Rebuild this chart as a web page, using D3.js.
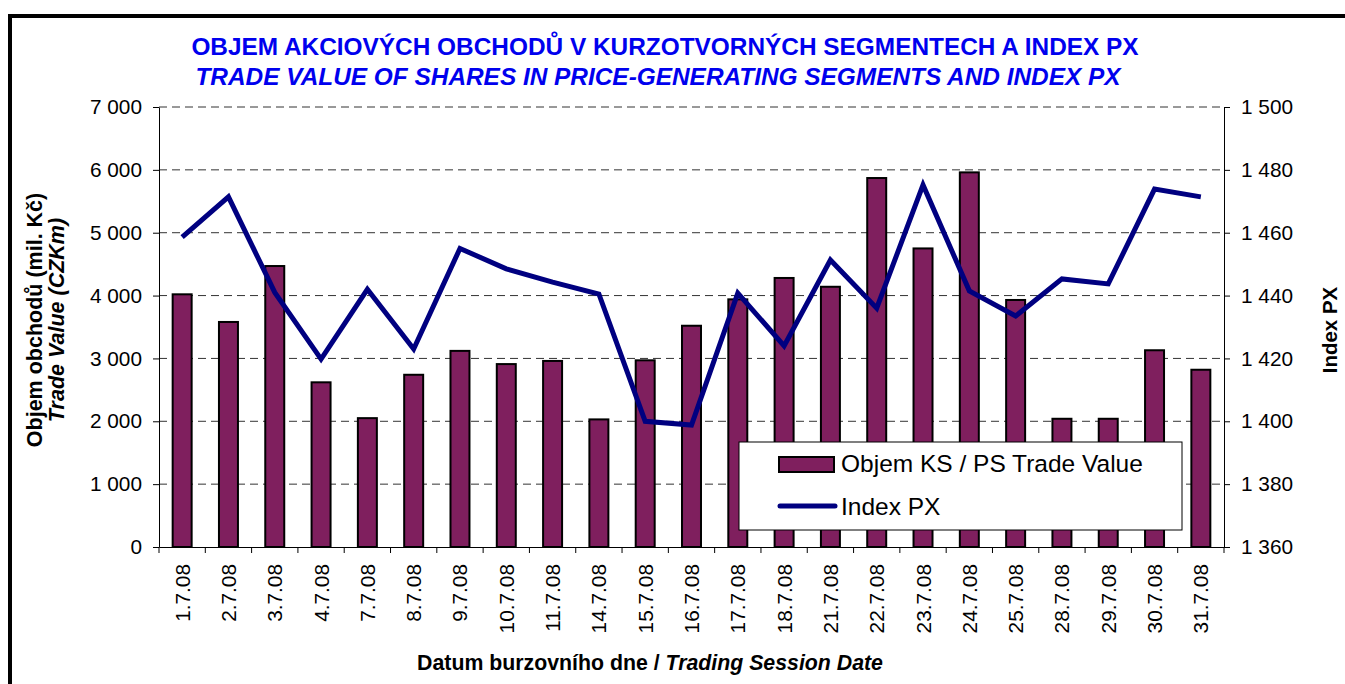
<!DOCTYPE html>
<html>
<head>
<meta charset="utf-8">
<script src="https://cdn.jsdelivr.net/npm/d3@7"></script>
<style>
	body { margin: 0; background: #fff; }
	text { font-family: Arial, "Liberation Sans", sans-serif; fill: #000; }
</style>
</head>
<body>
<svg id="chart" width="1345" height="684"></svg>
<script>
var dates = ["1.7.08", "2.7.08", "3.7.08", "4.7.08", "7.7.08", "8.7.08", "9.7.08", "10.7.08",
	"11.7.08", "14.7.08", "15.7.08", "16.7.08", "17.7.08", "18.7.08", "21.7.08", "22.7.08",
	"23.7.08", "24.7.08", "25.7.08", "28.7.08", "29.7.08", "30.7.08", "31.7.08"];

// objem obchodu, mil. Kc
var tradeValue = [4020, 3580, 4470, 2620, 2050, 2740, 3120, 2910, 2960, 2030, 2970, 3520,
	3940, 4280, 4140, 5870, 4750, 5960, 3930, 2040, 2040, 3130, 2820];

// index PX
var indexPX = [1458.6, 1471.4, 1441, 1419.8, 1442, 1423, 1455, 1448.5, 1444.3, 1440.5, 1400,
	1398.8, 1440.8, 1424, 1451.3, 1436, 1475.2, 1441.5, 1433.5, 1445.3, 1443.7, 1473.9, 1471.4];

var leftTicks = [0, 1000, 2000, 3000, 4000, 5000, 6000, 7000];
var rightTicks = [1360, 1380, 1400, 1420, 1440, 1460, 1480, 1500];

var barColor = "#7f1f5e",
	lineColor = "#000080",
	titleColor = "#0000ee";

var plot = {left: 159, right: 1224, top: 107, bottom: 547};

var svg = d3.select("#chart");

// outer frame (runs off the right and bottom edge)
svg.append("rect")
	.attr("x", 10)
	.attr("y", 16)
	.attr("width", 1400)
	.attr("height", 700)
	.attr("fill", "none")
	.attr("stroke", "#000")
	.attr("stroke-width", 4);

var cs = d3.formatLocale({decimal: ",", thousands: " ", grouping: [3], currency: ["", " Kč"]});
var fmt = cs.format(",d");

var x = d3.scaleBand()
	.domain(dates)
	.range([plot.left, plot.right])
	.paddingInner(0.59)
	.paddingOuter(0.295);

var y = d3.scaleLinear()
	.domain([0, 7000])
	.range([plot.bottom, plot.top]);

var y2 = d3.scaleLinear()
	.domain([1360, 1500])
	.range([plot.bottom, plot.top]);

// gridlines
svg.append("g")
	.selectAll("line")
	.data(leftTicks.slice(1))
	.enter()
	.append("line")
	.attr("x1", plot.left)
	.attr("x2", plot.right)
	.attr("y1", function(d) { return y(d); })
	.attr("y2", function(d) { return y(d); })
	.attr("stroke", "#333")
	.attr("stroke-width", 1)
	.attr("stroke-dasharray", "8,5");

// bars
svg.append("g")
	.selectAll("rect")
	.data(tradeValue)
	.enter()
	.append("rect")
	.attr("x", function(d, i) { return x(dates[i]); })
	.attr("y", function(d) { return y(d); })
	.attr("width", x.bandwidth())
	.attr("height", function(d) { return y(0) - y(d); })
	.attr("fill", barColor)
	.attr("stroke", "#000")
	.attr("stroke-width", 2);

// index line
var line = d3.line()
	.x(function(d, i) { return x(dates[i]) + x.bandwidth() / 2; })
	.y(function(d) { return y2(d); });

svg.append("path")
	.datum(indexPX)
	.attr("d", line)
	.attr("fill", "none")
	.attr("stroke", lineColor)
	.attr("stroke-width", 5)
	.attr("stroke-linejoin", "miter")
	.attr("stroke-linecap", "butt");

// axes
var leftAxis = svg.append("g")
	.attr("transform", "translate(" + plot.left + ",0)")
	.call(d3.axisLeft(y).tickValues(leftTicks).tickFormat(fmt).tickSize(6).tickSizeOuter(0).tickPadding(11));

var rightAxis = svg.append("g")
	.attr("transform", "translate(" + plot.right + ",0)")
	.call(d3.axisRight(y2).tickValues(rightTicks).tickFormat(fmt).tickSize(6).tickSizeOuter(0).tickPadding(11));

var bottomAxis = svg.append("g")
	.attr("transform", "translate(0," + plot.bottom + ")")
	.call(d3.axisBottom(x).tickSize(0).tickSizeOuter(0));

bottomAxis.selectAll(".tick text")
	.attr("transform", "rotate(-90)")
	.attr("x", -17)
	.attr("y", 0)
	.attr("dy", "0.36em")
	.attr("text-anchor", "end");

// category boundary ticks
var edges = dates.map(function(d) { return x(d) - (x.step() - x.bandwidth()) / 2; });
edges.push(plot.right);
bottomAxis.selectAll("line.edge")
	.data(edges)
	.enter()
	.append("line")
	.attr("class", "edge")
	.attr("x1", function(d) { return d; })
	.attr("x2", function(d) { return d; })
	.attr("y1", 0)
	.attr("y2", 6)
	.attr("stroke", "#000");

[leftAxis, rightAxis, bottomAxis].forEach(function(a) {
	a.selectAll(".domain").attr("stroke", "#000").attr("stroke-width", 1);
	a.selectAll(".tick line").attr("stroke", "#000");
	a.selectAll("text")
		.attr("font-size", 20.8)
		.attr("font-family", "Arial, 'Liberation Sans', sans-serif")
		.attr("fill", "#000");
});

// titles
var title = svg.append("text")
	.attr("text-anchor", "middle")
	.attr("font-size", 24.4)
	.attr("font-weight", "bold")
	.style("fill", titleColor);

title.append("tspan")
	.attr("x", 665)
	.attr("y", 55)
	.text("OBJEM AKCIOVÝCH OBCHODŮ V KURZOTVORNÝCH SEGMENTECH A INDEX PX");

title.append("tspan")
	.attr("x", 658)
	.attr("y", 85)
	.attr("font-style", "italic")
	.text("TRADE VALUE OF SHARES IN PRICE-GENERATING SEGMENTS AND INDEX PX");

svg.append("text")
	.attr("transform", "translate(42,320) rotate(-90)")
	.attr("text-anchor", "middle")
	.attr("font-size", 21.5)
	.attr("font-weight", "bold")
	.text("Objem obchodů (mil. Kč)");

svg.append("text")
	.attr("transform", "translate(64,320) rotate(-90)")
	.attr("text-anchor", "middle")
	.attr("font-size", 21.5)
	.attr("font-weight", "bold")
	.attr("font-style", "italic")
	.text("Trade Value (CZKm)");

svg.append("text")
	.attr("transform", "translate(1337,330) rotate(-90)")
	.attr("text-anchor", "middle")
	.attr("font-size", 20.5)
	.attr("font-weight", "bold")
	.text("Index PX");

var xt = svg.append("text")
	.attr("x", 650)
	.attr("y", 670)
	.attr("text-anchor", "middle")
	.attr("font-size", 21.3)
	.attr("font-weight", "bold");
xt.append("tspan").text("Datum burzovního dne / ");
xt.append("tspan").attr("font-style", "italic").text("Trading Session Date");

// legend
var legend = svg.append("g")
	.attr("transform", "translate(739,442)");

legend.append("rect")
	.attr("width", 443)
	.attr("height", 88)
	.attr("fill", "#fff")
	.attr("stroke", "#000")
	.attr("stroke-width", 1);

legend.append("rect")
	.attr("x", 40)
	.attr("y", 15)
	.attr("width", 55)
	.attr("height", 15)
	.attr("fill", barColor)
	.attr("stroke", "#000")
	.attr("stroke-width", 2);

legend.append("text")
	.attr("x", 102)
	.attr("y", 30)
	.attr("font-size", 24.5)
	.text("Objem KS / PS Trade Value");

legend.append("line")
	.attr("x1", 41)
	.attr("x2", 96)
	.attr("y1", 64)
	.attr("y2", 64)
	.attr("stroke", lineColor)
	.attr("stroke-width", 5)
	.attr("stroke-linecap", "round");

legend.append("text")
	.attr("x", 102)
	.attr("y", 73)
	.attr("font-size", 24.5)
	.text("Index PX");
</script>
</body>
</html>
